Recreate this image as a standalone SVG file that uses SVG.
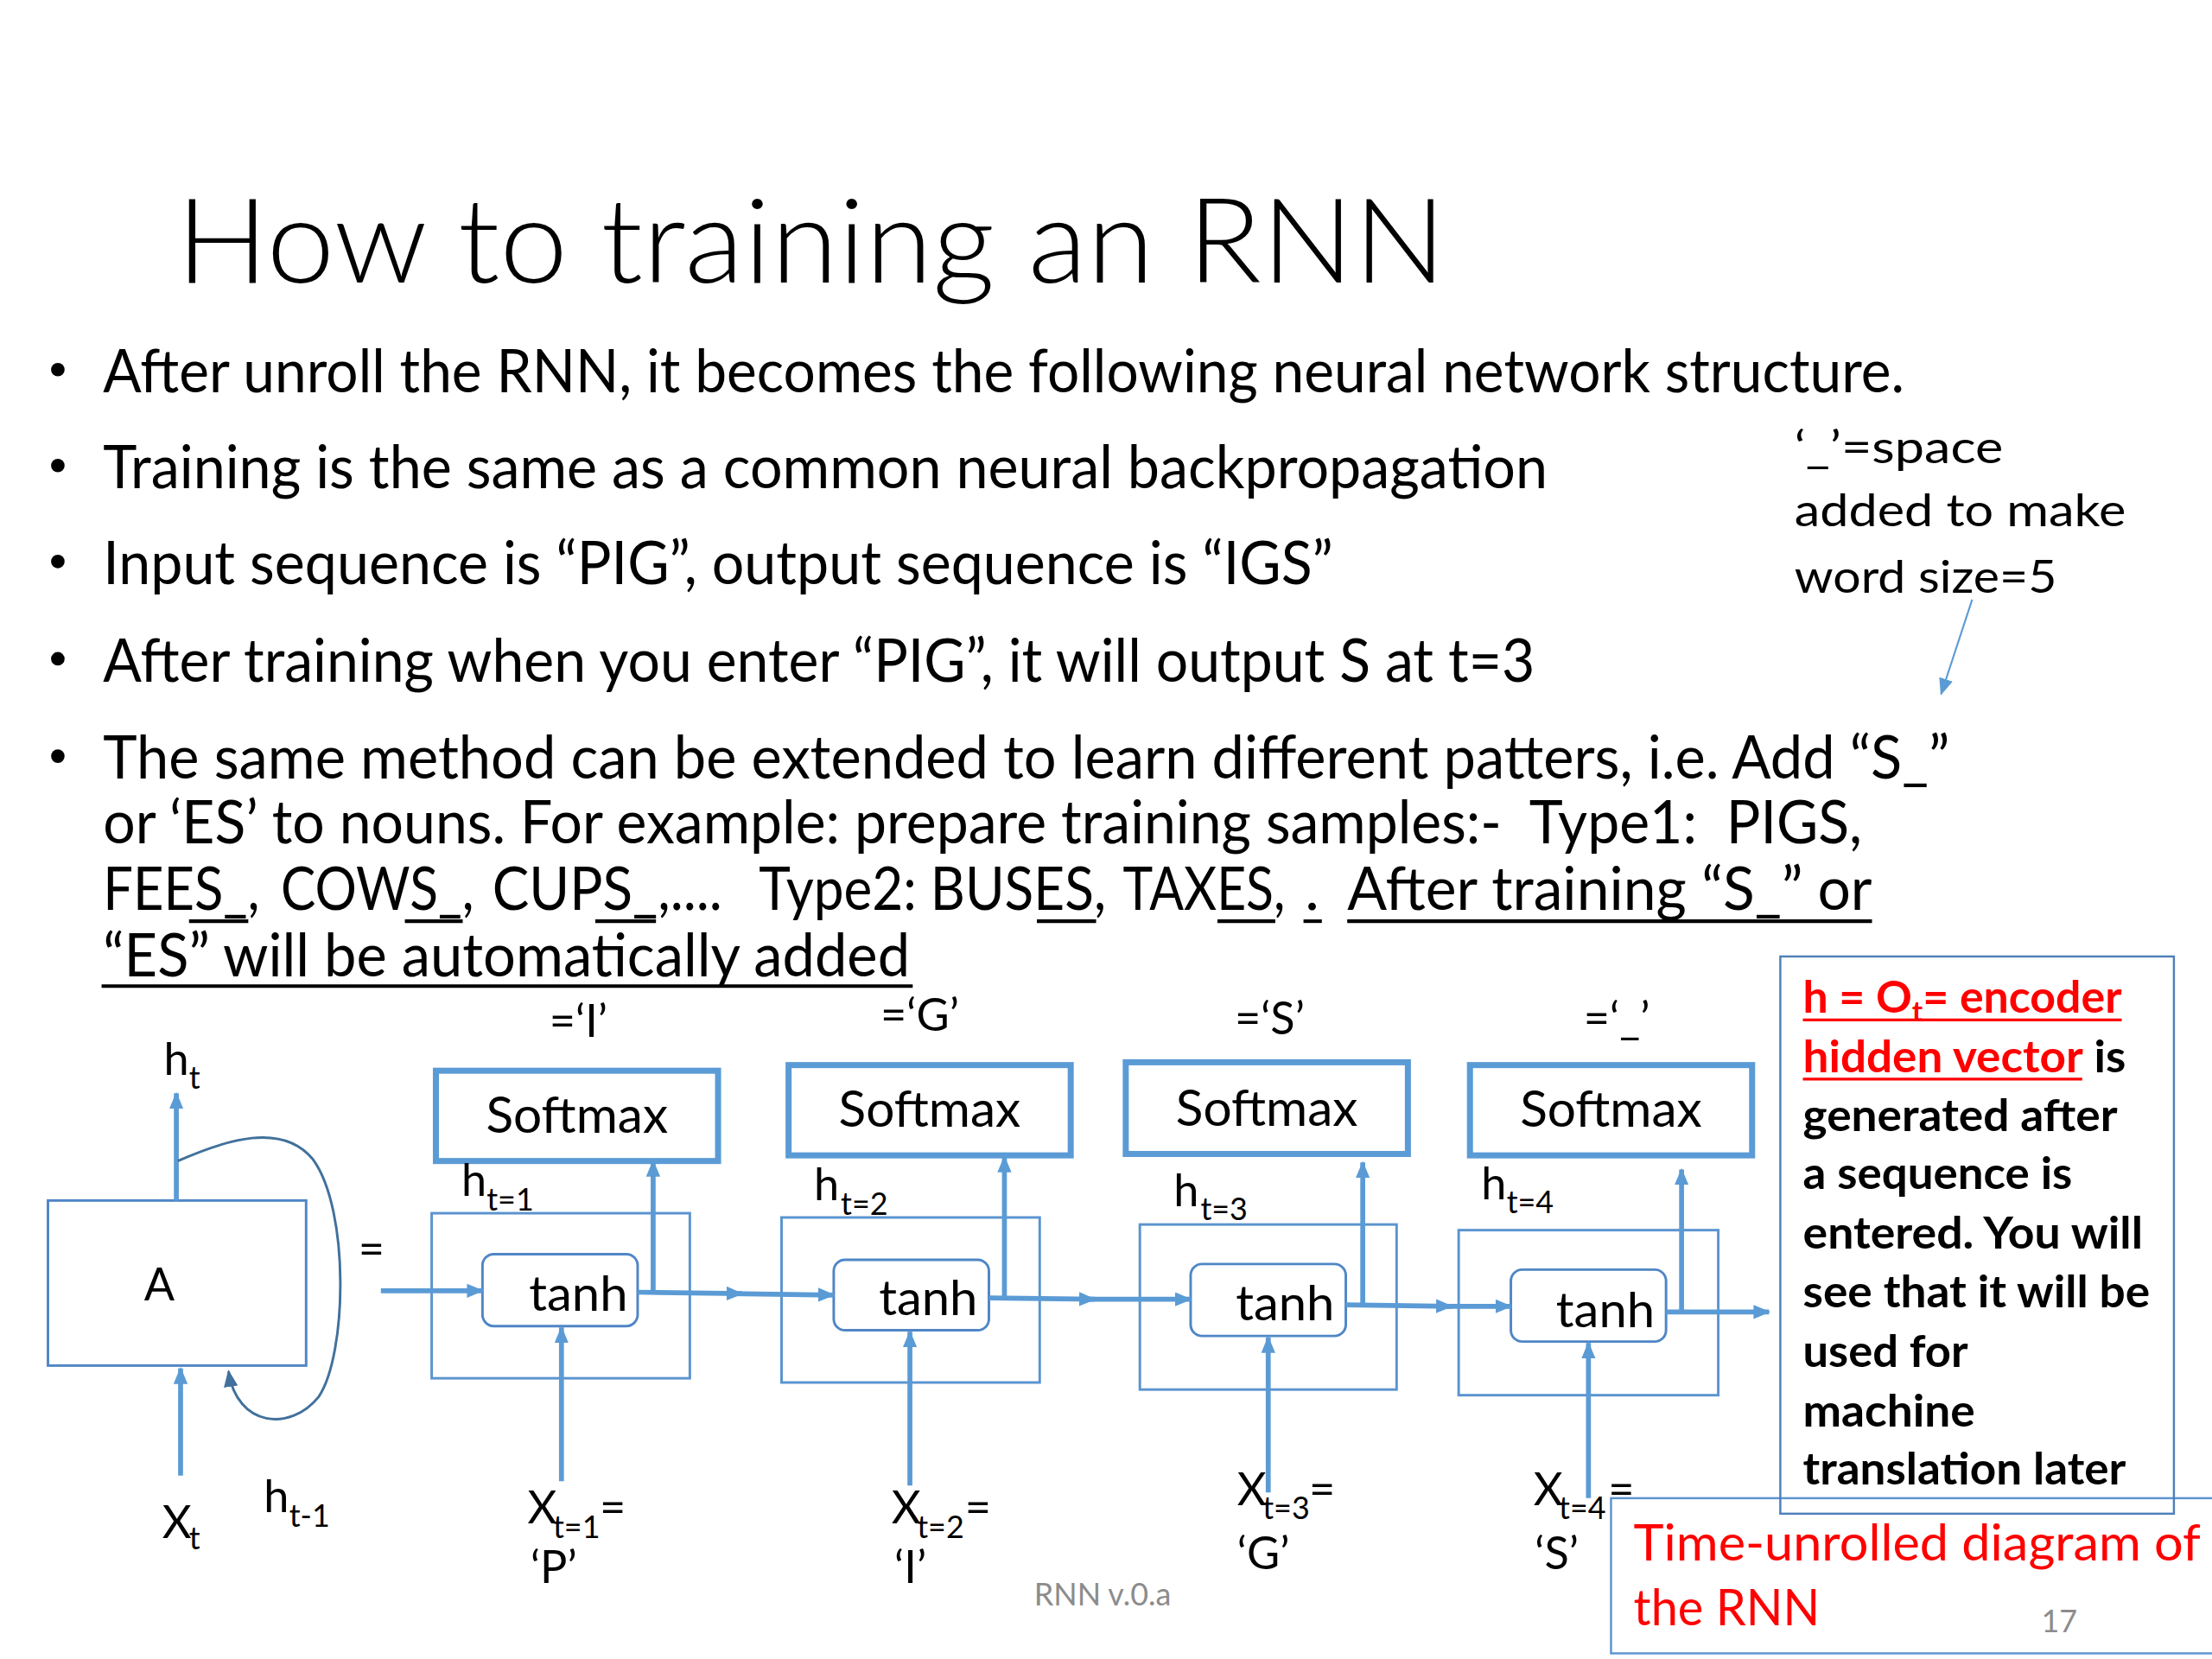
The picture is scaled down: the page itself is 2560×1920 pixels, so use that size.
<svg xmlns="http://www.w3.org/2000/svg" width="2560" height="1920" viewBox="0 0 2560 1920">
<defs>
<style>
text{font-family:Lato,"Liberation Sans",sans-serif;fill:#000}
.t{font-size:43px;white-space:pre}
.lab{font-size:32px}
.sub{font-size:22px}
.sm{font-size:36px}
.th{font-size:34px}
.nb{font-size:31px;font-weight:bold}
.red{fill:#ff0000}
.gray{fill:#8c8c8c;font-size:22px}
.arr{stroke:#5b9bd5;stroke-width:3.5;fill:none;marker-end:url(#ah)}
.soft{fill:#fff;stroke:#5b9bd5;stroke-width:4.3}
.outer{fill:none;stroke:#5b94cf;stroke-width:1.8}
.tanh{fill:#fff;stroke:#4f86c6;stroke-width:1.8}
.ul{stroke:#000;stroke-width:2.5}
</style>
<marker id="ah" viewBox="0 0 12 10" refX="11" refY="5" markerWidth="12" markerHeight="10" markerUnits="userSpaceOnUse" orient="auto"><path d="M0,0 L12,5 L0,10 z" fill="#5b9bd5"/></marker>
<marker id="ahd" viewBox="0 0 12 10" refX="11" refY="5" markerWidth="12" markerHeight="10" markerUnits="userSpaceOnUse" orient="auto"><path d="M0,0 L12,5 L0,10 z" fill="#41719c"/></marker>
<marker id="aht" viewBox="0 0 12 10" refX="11" refY="5" markerWidth="12" markerHeight="10" markerUnits="userSpaceOnUse" orient="auto"><path d="M0,0 L12,5 L0,10 z" fill="#5b9bd5"/></marker>
</defs>
<rect width="2560" height="1920" fill="#fff"/>
<g transform="scale(1.63265)">
<g id="title">
<text x="125" y="200" font-size="83" font-weight="300" textLength="900" lengthAdjust="spacingAndGlyphs">How to training an RNN</text>
</g>
<g id="bullets">
<circle cx="41" cy="262" r="4.8"/>
<text class="t" x="73" y="278" textLength="1277" lengthAdjust="spacingAndGlyphs">After unroll the RNN, it becomes the following neural network structure.</text>
<circle cx="41" cy="330" r="4.8"/>
<text class="t" x="73" y="346" textLength="1024" lengthAdjust="spacingAndGlyphs">Training is the same as a common neural backpropagation</text>
<circle cx="41" cy="398" r="4.8"/>
<text class="t" x="73" y="414" textLength="872" lengthAdjust="spacingAndGlyphs">Input sequence is “PIG”, output sequence is “IGS”</text>
<circle cx="41" cy="467" r="4.8"/>
<text class="t" x="73" y="483" textLength="1015" lengthAdjust="spacingAndGlyphs">After training when you enter “PIG”, it will output S at t=3</text>
<circle cx="41" cy="536" r="4.8"/>
<text class="t" x="73" y="552" textLength="1309" lengthAdjust="spacingAndGlyphs">The same method can be extended to learn different patters, i.e. Add “S_”</text>
<text class="t" x="73" y="598" textLength="1247" lengthAdjust="spacingAndGlyphs">or ‘ES’ to nouns. For example: prepare training samples:-  Type1:  PIGS,</text>
<text class="t" x="73" y="645" textLength="111" lengthAdjust="spacingAndGlyphs">FEES_,</text>
<text class="t" x="199" y="645" textLength="137" lengthAdjust="spacingAndGlyphs">COWS_,</text>
<text class="t" x="349" y="645" textLength="163" lengthAdjust="spacingAndGlyphs">CUPS_,....</text>
<text class="t" x="538" y="645" textLength="246" lengthAdjust="spacingAndGlyphs">Type2: BUSES,</text>
<text class="t" x="796" y="645" textLength="115" lengthAdjust="spacingAndGlyphs">TAXES,</text>
<text class="t" x="925" y="645">.</text>
<text class="t" x="955" y="645" textLength="372" lengthAdjust="spacingAndGlyphs">After training “S_” or</text>
<text class="t" x="73" y="692" textLength="572" lengthAdjust="spacingAndGlyphs">“ES” will be automatically added</text>
<line class="ul" x1="134" y1="653" x2="176" y2="653"/>
<line class="ul" x1="287" y1="653" x2="328" y2="653"/>
<line class="ul" x1="422" y1="653" x2="465" y2="653"/>
<line class="ul" x1="735" y1="653" x2="777" y2="653"/>
<line class="ul" x1="863" y1="653" x2="904" y2="653"/>
<line class="ul" x1="924" y1="653" x2="937" y2="653"/>
<line class="ul" x1="955" y1="653" x2="1327" y2="653"/>
<line class="ul" x1="72" y1="699" x2="647" y2="699"/>
</g>
<g id="space-note">
<text x="1272" y="328" font-size="32" textLength="148" lengthAdjust="spacingAndGlyphs">‘_’=space</text>
<text x="1272" y="373" font-size="32" textLength="235" lengthAdjust="spacingAndGlyphs">added to make</text>
<text x="1272" y="420" font-size="32" textLength="186" lengthAdjust="spacingAndGlyphs">word size=5</text>
</g>
<g id="node-A">
<rect x="34" y="851" width="183" height="117" fill="none" stroke="#4f86c6" stroke-width="1.8"/>
<text class="lab" x="113" y="922" text-anchor="middle">A</text>
</g>
<g id="cell1">
<rect class="outer" x="306" y="860" width="183" height="117"/>
<rect class="soft" x="309" y="759" width="200" height="64"/>
<text class="sm" x="409" y="803" text-anchor="middle" textLength="129" lengthAdjust="spacingAndGlyphs">Softmax</text>
<rect class="tanh" x="342" y="889" width="110" height="51" rx="8"/>
<text class="th" x="375" y="929" textLength="70" lengthAdjust="spacingAndGlyphs">tanh</text>
</g>
<g id="cell2">
<rect class="outer" x="554" y="863" width="183" height="117"/>
<rect class="soft" x="559" y="755" width="200" height="64"/>
<text class="sm" x="659" y="799" text-anchor="middle" textLength="129" lengthAdjust="spacingAndGlyphs">Softmax</text>
<rect class="tanh" x="591" y="893" width="110" height="50" rx="8"/>
<text class="th" x="623" y="932" textLength="70" lengthAdjust="spacingAndGlyphs">tanh</text>
</g>
<g id="cell3">
<rect class="outer" x="808" y="868" width="182" height="117"/>
<rect class="soft" x="798" y="753" width="200" height="65"/>
<text class="sm" x="898" y="798" text-anchor="middle" textLength="129" lengthAdjust="spacingAndGlyphs">Softmax</text>
<rect class="tanh" x="844" y="896" width="110" height="51" rx="8"/>
<text class="th" x="876" y="936" textLength="70" lengthAdjust="spacingAndGlyphs">tanh</text>
</g>
<g id="cell4">
<rect class="outer" x="1034" y="872" width="184" height="117"/>
<rect class="soft" x="1042" y="755" width="200" height="64"/>
<text class="sm" x="1142" y="799" text-anchor="middle" textLength="129" lengthAdjust="spacingAndGlyphs">Softmax</text>
<rect class="tanh" x="1071" y="900" width="110" height="51" rx="8"/>
<text class="th" x="1103" y="941" textLength="70" lengthAdjust="spacingAndGlyphs">tanh</text>
</g>
<g id="connectors">
<line class="arr" x1="125" y1="851" x2="125" y2="775"/>
<line class="arr" x1="128" y1="1046" x2="128" y2="970"/>
<path d="M126,823 C160,808 200,795 222,822 C248,858 246,960 226,990 C206,1015 168,1012 162,972" fill="none" stroke="#41719c" stroke-width="1.8" marker-end="url(#ahd)"/>
<line class="arr" x1="270" y1="915" x2="342" y2="915"/>
<line class="arr" x1="452" y1="916" x2="526" y2="917"/>
<line class="arr" x1="518" y1="917" x2="591" y2="918"/>
<line class="arr" x1="463" y1="916" x2="463" y2="823"/>
<line class="arr" x1="398" y1="1050" x2="398" y2="941"/>
<line class="arr" x1="701" y1="920" x2="776" y2="921"/>
<line class="arr" x1="768" y1="921" x2="844" y2="921"/>
<line class="arr" x1="712" y1="920" x2="712" y2="820"/>
<line class="arr" x1="645" y1="1053" x2="645" y2="944"/>
<line class="arr" x1="954" y1="925" x2="1029" y2="926"/>
<line class="arr" x1="1022" y1="926" x2="1071" y2="926"/>
<line class="arr" x1="966" y1="925" x2="966" y2="824"/>
<line class="arr" x1="899" y1="1058" x2="899" y2="948"/>
<line class="arr" x1="1181" y1="930" x2="1254" y2="930"/>
<line class="arr" x1="1192" y1="930" x2="1192" y2="829"/>
<line class="arr" x1="1126" y1="1062" x2="1126" y2="952"/>
<line x1="1398" y1="425" x2="1376" y2="492" stroke="#5b9bd5" stroke-width="1.3" marker-end="url(#aht)"/>
</g>
<g id="labels">
<text class="lab" x="116" y="762">h</text><text class="sub" x="134" y="772">t</text>
<text class="lab" x="115" y="1090">X</text><text class="sub" x="134" y="1098">t</text>
<text class="lab" x="187" y="1072">h</text><text class="sub" x="205" y="1082">t-1</text>
<text class="lab" x="254" y="897">=</text>
<text class="lab" x="410" y="735" text-anchor="middle">=‘I’</text>
<text class="lab" x="652" y="731" text-anchor="middle">=‘G’</text>
<text class="lab" x="900" y="733" text-anchor="middle">=‘S’</text>
<text class="lab" x="1146" y="733" text-anchor="middle">=‘_’</text>
<text class="lab" x="327" y="848">h</text><text class="sub" x="345" y="858">t=1</text>
<text class="lab" x="577" y="851">h</text><text class="sub" x="596" y="861">t=2</text>
<text class="lab" x="832" y="855">h</text><text class="sub" x="851" y="865">t=3</text>
<text class="lab" x="1050" y="850">h</text><text class="sub" x="1068" y="860">t=4</text>
<text class="lab" x="374" y="1080">X</text><text class="sub" x="392" y="1090">t=1</text><text class="lab" x="425" y="1080">=</text>
<text class="lab" x="376" y="1122">‘P’</text>
<text class="lab" x="632" y="1080">X</text><text class="sub" x="650" y="1090">t=2</text><text class="lab" x="684" y="1080">=</text>
<text class="lab" x="634" y="1122">‘I’</text>
<text class="lab" x="877" y="1067">X</text><text class="sub" x="895" y="1077">t=3</text><text class="lab" x="928" y="1067">=</text>
<text class="lab" x="877" y="1112">‘G’</text>
<text class="lab" x="1087" y="1067">X</text><text class="sub" x="1105" y="1077">t=4</text><text class="lab" x="1140" y="1067">=</text>
<text class="lab" x="1088" y="1112">‘S’</text>
<text class="gray" x="733" y="1138">RNN v.0.a</text>
</g>
<g id="time-box">
<rect x="1142" y="1062" width="430" height="110" fill="none" stroke="#5b94cf" stroke-width="1.5"/>
<text class="red" x="1158" y="1106" font-size="36" textLength="402" lengthAdjust="spacingAndGlyphs">Time-unrolled diagram of</text>
<text class="red" x="1158" y="1152" font-size="36" textLength="132" lengthAdjust="spacingAndGlyphs">the RNN</text>
<text class="gray" x="1447" y="1157">17</text>
</g>
<g id="encoder-note">
<rect x="1262" y="678" width="279" height="395" fill="none" stroke="#4f7fba" stroke-width="1.5"/>
<text class="nb red" x="1278" y="718" textLength="226" lengthAdjust="spacingAndGlyphs">h = O<tspan font-size="20" dy="6">t</tspan><tspan dy="-6">= encoder</tspan></text>
<line x1="1278" y1="723" x2="1504" y2="723" stroke="#ff0000" stroke-width="2"/>
<text class="nb" x="1278" y="760" textLength="229" lengthAdjust="spacingAndGlyphs"><tspan class="red">hidden vector</tspan> is</text>
<line x1="1278" y1="765" x2="1476" y2="765" stroke="#ff0000" stroke-width="2"/>
<text class="nb" x="1278" y="802" textLength="223" lengthAdjust="spacingAndGlyphs">generated after</text>
<text class="nb" x="1278" y="843" textLength="191" lengthAdjust="spacingAndGlyphs">a sequence is</text>
<text class="nb" x="1278" y="885" textLength="241" lengthAdjust="spacingAndGlyphs">entered. You will</text>
<text class="nb" x="1278" y="927" textLength="246" lengthAdjust="spacingAndGlyphs">see that it will be</text>
<text class="nb" x="1278" y="969" textLength="117" lengthAdjust="spacingAndGlyphs">used for</text>
<text class="nb" x="1278" y="1011" textLength="122" lengthAdjust="spacingAndGlyphs">machine</text>
<text class="nb" x="1278" y="1052" textLength="229" lengthAdjust="spacingAndGlyphs">translation later</text>
</g>
</g>
</svg>
